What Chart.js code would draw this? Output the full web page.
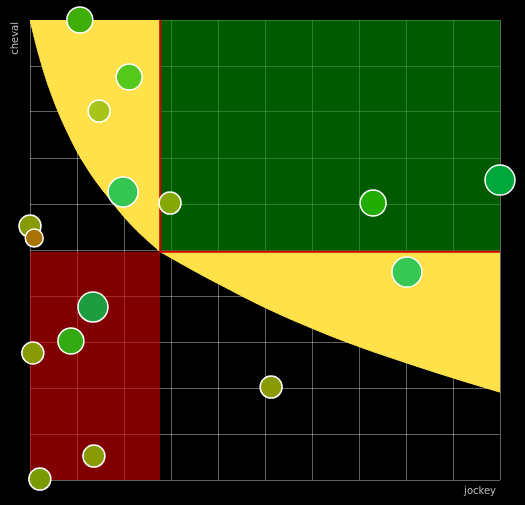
<!DOCTYPE html>
<html>
<head>
<meta charset="utf-8">
<script src="https://cdn.jsdelivr.net/npm/chart.js@4/dist/chart.umd.min.js"></script>
<style>
  html, body { margin: 0; padding: 0; background: #000; }
  #wrap { width: 525px; height: 505px; }
</style>
</head>
<body>
<div id="wrap"><canvas id="chart"></canvas></div>
<script>
// bubbles: jockey (x), cheval (y), size, colour
const bubbleX = [1.06, 2.11, 1.47, 1.98, 2.98, 0.0, 0.09, 7.30, 10.0, 8.02, 1.34, 0.87, 0.06, 5.13, 1.36, 0.21];
const bubbleY = [10.0, 8.76, 8.02, 6.26, 6.02, 5.52, 5.26, 6.02, 6.52, 4.52, 3.76, 3.02, 2.76, 2.02, 0.52, 0.02];
const bubbleR = [13, 13, 11, 15, 11, 11, 9, 13, 15, 15, 15, 13, 11, 11, 11, 11];
const bubbleColors = ['#3fae08', '#55c81c', '#a8c41a', '#33c652', '#86a804', '#869a04', '#a87204',
  '#22ac04', '#00a83c', '#36c852', '#1e9c40', '#34aa12', '#889a04', '#889a04', '#889a04', '#7a9a04'];

// crosshair threshold
const splitX = 2.77;
const splitY = 4.96;

// yellow curve
const curveTopX = [0, 0.2, 0.45, 0.8, 1.2, 1.7, 2.2, 2.77];
const curveTopY = [10, 9.2, 8.4, 7.55, 6.8, 6.1, 5.5, 4.96];
const curveBotX = [2.77, 3.4, 4, 5, 6, 7, 8, 9, 10];
const curveBotY = [4.96, 4.6, 4.27, 3.75, 3.3, 2.9, 2.55, 2.22, 1.91];

const pts = (xs, ys) => xs.map((x, i) => ({ x: x, y: ys[i] }));
const yellow = '#ffe24a';

const labels = {
    id: 'labels',
    afterDraw(chart) {
        const ctx = chart.ctx;
        ctx.save();
        ctx.fillStyle = '#bbbbbb';
        ctx.font = '10px "DejaVu Sans", sans-serif';
        ctx.textAlign = 'right';
        ctx.fillText('jockey', 496, 494);
        ctx.translate(18, 22);
        ctx.rotate(-Math.PI / 2);
        ctx.fillText('cheval', 0, 0);
        ctx.restore();
    }
};

new Chart(document.getElementById('chart'), {
    type: 'bubble',
    data: {
        datasets: [
            {
                data: bubbleX.map((x, i) => ({ x: x, y: bubbleY[i], r: bubbleR[i] })),
                backgroundColor: bubbleColors,
                borderColor: '#ffffff',
                borderWidth: 1.5,
                clip: false,
                order: 0
            },
            {
                type: 'line', order: 1,
                data: [{ x: splitX, y: 10 }, { x: splitX, y: splitY }, { x: 10, y: splitY }],
                borderColor: '#d00000', borderWidth: 2, pointRadius: 0, fill: false
            },
            {
                type: 'line', order: 2,
                data: pts(curveTopX, curveTopY),
                borderColor: yellow, backgroundColor: yellow, borderWidth: 1,
                pointRadius: 0, tension: 0.4, fill: 'end'
            },
            {
                type: 'line', order: 2,
                data: pts(curveBotX, curveBotY),
                borderColor: yellow, backgroundColor: yellow, borderWidth: 1,
                pointRadius: 0, tension: 0.4, fill: { value: splitY }
            },
            {
                type: 'line', order: 3,
                data: [{ x: splitX, y: 10 }, { x: 10, y: 10 }],
                borderWidth: 0, pointRadius: 0, backgroundColor: 'rgba(0,150,0,0.6)', fill: { value: splitY }
            },
            {
                type: 'line', order: 3,
                data: [{ x: 0, y: splitY }, { x: splitX, y: splitY }],
                borderWidth: 0, pointRadius: 0, backgroundColor: 'rgba(213,0,0,0.6)', fill: 'start'
            }
        ]
    },
    options: {
        responsive: true,
        maintainAspectRatio: false,
        animation: false,
        layout: { padding: { left: 30, right: 25, top: 20, bottom: 25 } },
        plugins: { legend: { display: false }, tooltip: { enabled: false } },
        scales: {
            x: {
                type: 'linear', min: 0, max: 10,
                ticks: { display: false, stepSize: 1 },
                grid: { color: 'rgba(255,255,255,0.38)', drawTicks: false },
                border: { display: false }
            },
            y: {
                type: 'linear', min: 0, max: 10,
                ticks: { display: false, stepSize: 1 },
                grid: { color: 'rgba(255,255,255,0.38)', drawTicks: false },
                border: { display: false }
            }
        }
    },
    plugins: [labels]
});
</script>
</body>
</html>
